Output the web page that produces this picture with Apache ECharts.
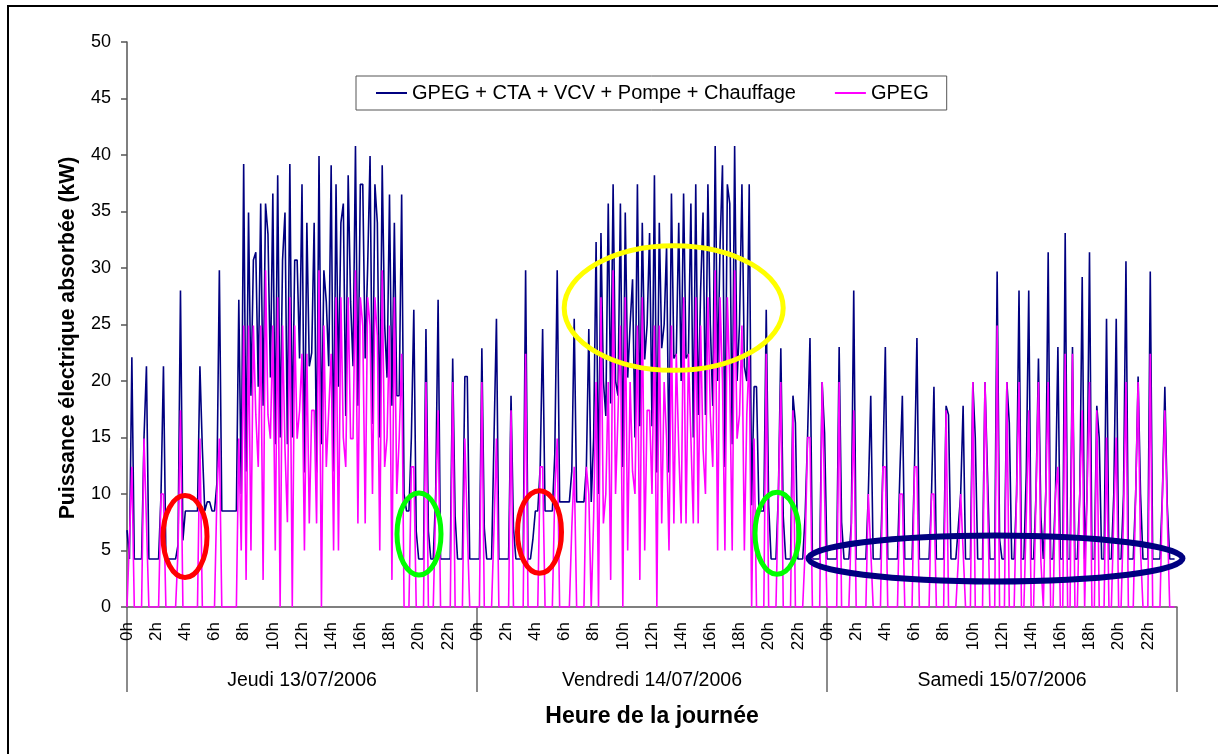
<!DOCTYPE html>
<html><head><meta charset="utf-8">
<style>html,body{margin:0;padding:0;background:#fff}#c{width:1218px;height:754px}</style>
<script src="https://cdn.jsdelivr.net/npm/echarts@6/dist/echarts.min.js"></script>
</head><body><div id="c"></div>
<script>
const tickLabels=['0h','2h','4h','6h','8h','10h','12h','14h','16h','18h','20h','22h'];
const dayLabels=['Jeudi 13/07/2006','Vendredi 14/07/2006','Samedi 15/07/2006'];
const totalJeudi=[
6.8,4.25,22.1,4.25,4.25,4.25,4.25,15,21.3,4.25,4.25,4.25,
4.25,4.25,10,21.3,4.25,4.25,4.25,4.25,4.25,5.5,28,5.9,
8.5,8.5,8.5,8.5,8.5,8.5,21.3,14,8.5,9.3,9.3,8.5,
8.5,11,29.8,8.5,8.5,8.5,8.5,8.5,8.5,8.5,27.2,10,
39.2,12,34.9,18.7,30.7,31.4,19.5,35.7,17.8,35.7,33,20.3,
36.6,14.4,38.2,15,30.7,34.9,14.4,39.2,15,30.7,30.7,22,
37.4,11.9,34,21.3,22.5,34,11.9,39.9,14.4,29.8,27,21.3,
39.1,12,37.4,19.5,34,35.7,16.9,38.2,27,21.3,40.8,17.8,
37.4,37.4,22,30,39.9,16.2,37.4,34,15,39.1,25,20.3,
36.5,17.8,34,18.7,18.7,36.5,10,8.5,8.5,15,26.3,6.7,
4.25,4.25,4.25,24.6,6.7,4.25,4.25,10,27.2,4.25,4.25,4.25,
4.25,4.25,22,8,4.25,4.25,4.25,20.4,20.4,4.25,4.25,4.25];
const gpegJeudi=[
0,6,12.4,0,0,0,0,14.9,7.5,0,0,0,
0,0,10,10,0,0,0,0,0,5,17.4,0,
0,0,0,0,0,0,14.9,0,0,0,0,0,
0,10,14.9,0,0,0,0,0,0,0,14.9,5,
24.9,2.4,24.9,5,24.9,17,12.4,24.9,2.4,29.8,17,14.9,
24.9,5,27.4,0,24.9,14,7.5,27.4,0,24.9,14.9,17.4,
22.4,5,22.4,7.4,17.4,17.4,7.4,29.8,0,24.9,12.4,17.4,
22.4,5,27.4,5,27.4,15,12.4,27.4,14.9,14.9,29.8,7.4,
27.4,24.9,7.4,27.4,24.9,10,27.4,24,5,29.8,12.4,15,
24.9,2.4,27.4,10,15,22.4,0,0,0,12.4,12.4,0,
0,0,0,19.9,0,0,0,9,17.4,0,0,0,
0,0,19.9,0,0,0,0,14.9,7,0,0,0];
const totalVendredi=[
4.25,4.25,22.9,7,4.25,4.25,4.25,15,25.5,4.25,4.25,4.25,
4.25,4.25,18.7,7,4.25,4.25,4.25,4.25,29.8,4.25,4.25,6,
8.5,8.5,12.4,24.6,8.5,8.5,8.5,8.5,13.5,29.8,9.3,9.3,
9.3,9.3,9.3,12,25.5,9.3,9.3,9.3,9.3,12.4,24.6,9.3,
15,32.3,10,33.1,20,16.9,35.7,18,37.4,20,18.7,35.7,
12.4,34.9,20.3,25,29,15,37.4,16,34,21.9,25,33.1,
16,38.2,11.9,34,22.9,25,32,11.9,36.6,22,22.4,34,
20,36.6,22,22.4,35.7,15,37.4,17,28,34.9,17,37.4,
25,17.8,40.8,20,32,39.1,12.4,37.4,35.7,14.4,40.8,20,
25,37.4,21.3,20,37.4,9,19.5,19.5,8.5,8.5,8.5,26.3,
9,4.25,4.25,4.25,10,22.9,8,4.25,4.25,4.25,18.7,16.3,
4.25,4.25,4.25,8,15,23.8,4.25,4.25,4.25,4.25,19.9,15.4];
const gpegVendredi=[
0,0,19.9,0,0,0,0,7,14.9,0,0,0,
0,0,17.4,0,0,0,0,0,22.4,0,0,0,
0,0,12.4,12.4,0,0,0,0,10,14.9,0,0,
0,0,0,7,12.4,0,0,0,0,12.4,10,0,
8,19.9,0,27.4,7.4,10,19.9,2.4,29.8,10,17,24.9,
0,27.4,5,19.9,12,10,24.9,2.4,27.4,5,17.4,17.4,
10,24.9,0,24.9,7.4,19.9,14.9,5,24.9,7.4,22.4,14,
7.4,27.4,7.4,22.4,15,7.4,27.4,7.4,24.9,14,10,27.4,
17,12.4,29.8,5,27.4,20,5,27.4,20,5,29.8,14.9,
17,24.9,5,17,22.4,0,14.9,0,0,0,0,22.4,
0,0,0,0,10,19.9,0,0,0,0,17.4,0,
0,0,0,5,15,15,0,0,0,0,19.9,10];
const totalSamedi=[
4.25,4.25,4.25,4.25,4.25,23,7.5,4.25,4.25,4.25,7.4,28,
4.25,4.25,4.25,4.25,4.25,10,18.7,4.25,4.25,4.25,4.25,12.4,
23,4.25,4.25,4.25,4.25,4.25,12,18.7,4.25,4.25,4.25,4.25,
12.4,23.8,4.25,4.25,4.25,4.25,4.25,10,19.5,4.25,4.25,4.25,
4.25,17.8,17,4.25,4.25,4.25,7,10,17.8,4.25,4.25,4.25,
19.9,15,4.25,4.25,4.25,19.9,12,4.25,4.25,4.25,29.7,6,
4.25,4.25,19.9,16.3,4.25,4.25,10,28,4.25,4.25,12,28,
4.25,4.25,10,22,8,4.25,10,31.4,4.25,4.25,10,23,
4.25,4.25,33.1,4.25,4.25,23,4.25,4.25,10,29.2,4.25,10,
31.4,4.25,4.25,17.8,15,4.25,4.25,25.5,4.25,4.25,10,25.5,
4.25,4.25,10,30.6,4.25,4.25,4.25,10,20.4,10,4.25,4.25,
4.25,29.7,4.25,4.25,4.25,4.25,10,19.5,9,4.25,4.25,4.25];
const gpegSamedi=[
0,0,0,0,0,19.9,0,0,0,0,7,17.4,
0,0,0,0,0,10,5,0,0,0,0,12.4,
12.4,0,0,0,0,0,10,10,0,0,0,0,
12.4,12.4,0,0,0,0,0,10,10,0,0,0,
0,17.4,0,0,0,0,4,10,5,0,0,0,
19.9,0,0,0,0,19.9,10,0,0,0,24.9,0,
0,0,19.9,0,0,0,10,19.9,0,0,8,17.4,
0,0,10,19.9,4,0,10,19.9,0,0,10,12.4,
0,0,22.4,0,0,22.4,0,0,10,17.4,0,10,
19.9,0,0,17.4,0,0,0,15,0,0,8,15,
0,0,8,19.9,0,0,0,10,19.9,5,0,0,
0,22.4,0,0,0,0,10,17.4,8,0,0,0];

const total=[...totalJeudi,...totalVendredi,...totalSamedi];
const gpeg=[...gpegJeudi,...gpegVendredi,...gpegSamedi];
const cats=[];
for(let d=0;d<3;d++)for(let h=0;h<12;h++)for(let m=0;m<12;m++)cats.push(m===0?tickLabels[h]:'');
cats.push('');
const txt='#000';
const font='"Liberation Sans", Arial, sans-serif';
const chart=echarts.init(document.getElementById('c'),null,{renderer:'canvas'});
const ell=(cx,cy,rx,ry,color,w)=>({type:'ellipse',z:50,shape:{cx,cy,rx,ry},style:{fill:null,stroke:color,lineWidth:w}});
chart.setOption({
 animation:false,
 backgroundColor:'#fff',
 textStyle:{fontFamily:font},
 grid:{left:127,top:42,width:1050,height:565,containLabel:false},
 legend:{left:356,top:76,padding:[7,18,7,20],itemGap:39,itemWidth:31,itemHeight:2,
  backgroundColor:'#fff',borderColor:'#555',borderWidth:1,borderRadius:0,
  icon:'rect',textStyle:{fontSize:20,color:txt,fontFamily:font},
  data:['GPEG + CTA + VCV + Pompe + Chauffage','GPEG']},
 xAxis:[{
  type:'category',data:cats,boundaryGap:false,
  axisLine:{onZero:false,lineStyle:{color:'#555',width:1.5}},axisTick:{show:false},
  axisLabel:{rotate:90,margin:15,fontSize:17,color:txt,fontFamily:font,hideOverlap:false,
   padding:[3,0,0,0],interval:(i)=>i%12===0&&i<432},
  name:'Heure de la journée',nameLocation:'middle',nameGap:98,
  nameTextStyle:{fontSize:23,fontWeight:'bold',color:txt,fontFamily:font}
 },{
  type:'category',data:dayLabels,position:'bottom',boundaryGap:true,
  axisLine:{show:false},
  axisTick:{show:true,length:85,alignWithLabel:false,lineStyle:{color:'#666',width:1.5}},
  axisLabel:{margin:64,fontSize:19.5,color:txt,fontFamily:font}
 }],
 yAxis:{type:'value',min:0,max:50,interval:5,
  axisLine:{show:true,lineStyle:{color:'#555',width:1.5}},
  axisTick:{show:true,length:6,lineStyle:{color:'#555',width:1.5}},splitLine:{show:false},
  axisLabel:{fontSize:18,color:txt,margin:16,fontFamily:font},
  name:'Puissance électrique absorbée (kW)',nameLocation:'middle',nameGap:48,
  nameTextStyle:{fontSize:21.2,fontWeight:'bold',color:txt,fontFamily:font,padding:[0,27,0,0]}},
 series:[
  {name:'GPEG + CTA + VCV + Pompe + Chauffage',type:'line',data:total,showSymbol:false,symbol:'none',
   lineStyle:{color:'#000080',width:1.6},itemStyle:{color:'#000080'},z:2},
  {name:'GPEG',type:'line',data:gpeg,showSymbol:false,symbol:'none',
   lineStyle:{color:'#FF00FF',width:1.6},itemStyle:{color:'#FF00FF'},z:3}
 ],
 graphic:[
  {type:'polyline',z:-1,shape:{points:[[8,754],[8,6],[1218,6]]},style:{fill:null,stroke:'#000',lineWidth:2}},
  ell(185,536.5,22,41,'#FF0000',5),
  ell(419,534,22,41,'#00FF00',5),
  ell(539.5,532,22,41.3,'#FF0000',5),
  ell(777,533.3,22,41,'#00FF00',5),
  ell(673.7,308,109.5,62.3,'#FFFF00',5),
  ell(995.5,558.5,187,23,'#000080',6)
 ]
});
</script></body></html>
